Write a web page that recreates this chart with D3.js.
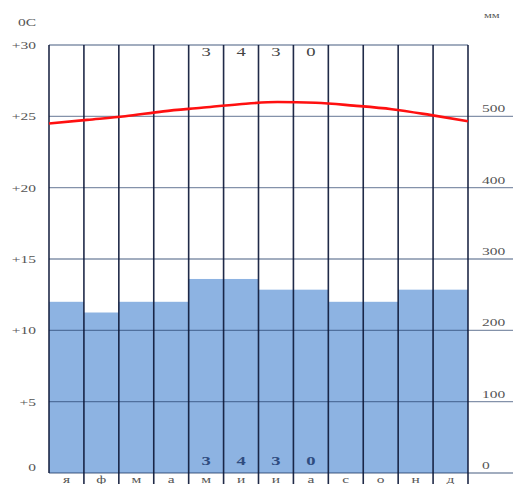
<!DOCTYPE html>
<html><head><meta charset="utf-8">
<script src="https://cdn.jsdelivr.net/npm/d3@7"></script>
<style>body{margin:0;background:#fff}svg{display:block}</style>
</head><body>
<svg id="c" width="513" height="484"></svg>
<script>
const months = ['я','ф','м','а','м','и','и','а','с','о','н','д'];
const precip = [240,225,240,240,272,272,257,257,240,240,257,257];
const temp = [24.5,24.75,25.0,25.35,25.6,25.85,26.0,25.95,25.75,25.5,25.1,24.65];
const tempTicks = [0,5,10,15,20,25,30];
const tempTickLabels = ['0','+5','+10','+15','+20','+25','+30'];
const precipTicks = [0,100,200,300,400,500];
const totalDigits = ['3','4','3','0'];
const totalMonths = [4,5,6,7];

const svg = d3.select('#c');
const L = 49, R = 468, T = 45, B = 473, BOT = 484;
const x = d3.scaleBand().domain(d3.range(12)).range([L,R]).paddingInner(0).paddingOuter(0);
const xp = d3.scalePoint().domain(d3.range(12)).range([L,R]).padding(0);
const yT = d3.scaleLinear().domain([0,30]).range([B,T]);
const yP = d3.scaleLinear().domain([0,600]).range([B,T]);
const font = 'Liberation Serif, DejaVu Serif, serif';
const sx = 1.55;

function txt(g, px, py, s, anchor, size, color, weight){
  g.append('text').attr('transform',`translate(${px},${py}) scale(${sx},1)`)
   .attr('text-anchor',anchor).attr('font-family',font).attr('font-size',size)
   .attr('fill',color).attr('font-weight',weight||'normal').text(s);
}

// bars
svg.append('g').selectAll('rect').data(precip).join('rect')
  .attr('x',(d,i)=>x(i)).attr('width',x.bandwidth())
  .attr('y',d=>yP(d)).attr('height',d=>yP(0)-yP(d))
  .attr('fill','#8db3e2');

// horizontal gridlines
const gg = svg.append('g');
tempTicks.forEach(t=>{
  gg.append('line').attr('x1',L).attr('x2', t===30 ? R : 513)
    .attr('y1',yT(t)).attr('y2',yT(t))
    .attr('stroke','#1f3864').attr('stroke-opacity',0.55).attr('stroke-width',1.3);
});
// vertical lines
const bounds = d3.range(13).map(i=> i<12 ? x(i) : R);
bounds.forEach((bx,i)=>{
  gg.append('line').attr('x1',bx).attr('x2',bx).attr('y1',T).attr('y2', i===0 ? B : BOT)
    .attr('stroke','#0d1838').attr('stroke-opacity',0.92).attr('stroke-width',1.6);
});

// temperature line
const line = d3.line().x((d,i)=>xp(i)).y(d=>yT(d)).curve(d3.curveMonotoneX);
svg.append('path').datum(temp).attr('d',line).attr('fill','none')
  .attr('stroke','#ff1010').attr('stroke-width',2.6);

// axis labels
const lab = svg.append('g');
tempTicks.forEach((t,i)=>{
  txt(lab, 36, yT(t)+ (t===0 ? -2 : 4), tempTickLabels[i], 'end', 10, '#555');
});
precipTicks.forEach(p=>{
  txt(lab, 482, yP(p)-4, String(p), 'start', 10, '#555');
});
txt(lab, 18, 26, '0C', 'start', 10, '#555');
txt(lab, 484, 18, 'мм', 'start', 8, '#555');

// month labels
months.forEach((m,i)=>{
  txt(lab, x(i)+x.bandwidth()/2, 483, m, 'middle', 10, '#555');
});

// total digits
totalDigits.forEach((d,k)=>{
  const i = totalMonths[k];
  txt(lab, x(i)+x.bandwidth()/2, 56, d, 'middle', 12, '#444');
  txt(lab, x(i)+x.bandwidth()/2, 465, d, 'middle', 12, '#2f4c80', 'bold');
});
</script>
</body></html>
